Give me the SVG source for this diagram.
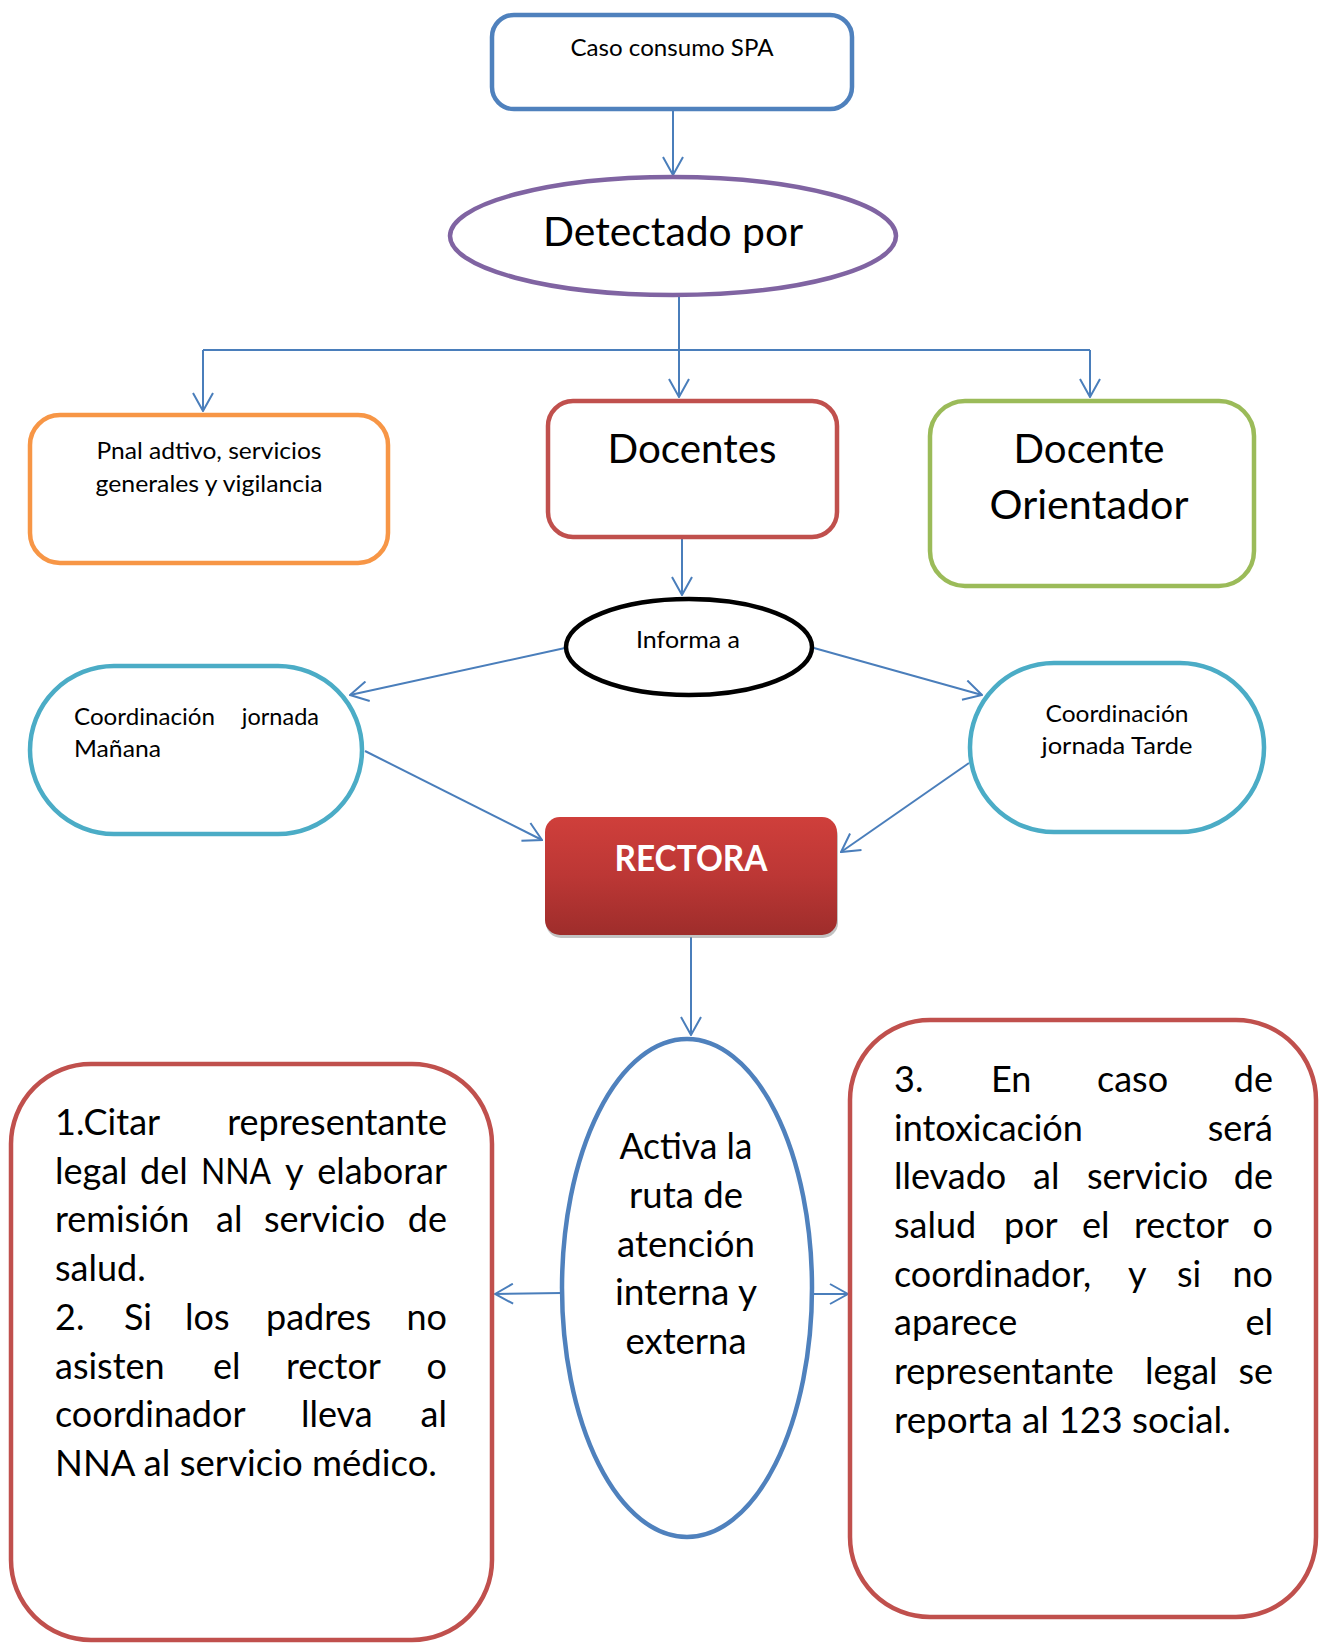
<svg xmlns="http://www.w3.org/2000/svg" width="1322" height="1648" viewBox="0 0 1322 1648">
<style>
text{font-family:Lato,"Open Sans","Liberation Sans",sans-serif;fill:#000}
.sm{font-size:23.5px}
.lg{font-size:40px}
.bd{font-size:36px}
.mid{text-anchor:middle}
.end{text-anchor:end}
.con{fill:none;stroke:#4A7EBB;stroke-width:2}
.arr{marker-end:url(#ah)}
.shape{fill:#fff;stroke-width:4.5}
</style>
<defs>
<marker id="ah" viewBox="0 0 20 22" markerWidth="20" markerHeight="22" refX="19" refY="11" orient="auto" markerUnits="userSpaceOnUse">
<path d="M1,1 L19,11 L1,21" fill="none" stroke="#4A7EBB" stroke-width="2"/>
</marker>
<linearGradient id="rg" x1="0" y1="0" x2="0" y2="1">
<stop offset="0" stop-color="#CF3F3B"/>
<stop offset="0.5" stop-color="#BC3735"/>
<stop offset="1" stop-color="#9E2D2B"/>
</linearGradient>
</defs>
<rect width="1322" height="1648" fill="#fff"/>

<g id="connectors">
<path class="con arr" d="M673,111 L673,175"/>
<path class="con arr" d="M679,296 L679,397"/>
<path class="con" d="M203,350 L1090,350"/>
<path class="con arr" d="M203,350 L203,411"/>
<path class="con arr" d="M1090,350 L1090,397"/>
<path class="con arr" d="M682,539 L682,595"/>
<path class="con arr" d="M565,648 L350,695"/>
<path class="con arr" d="M814,648 L982,695"/>
<path class="con arr" d="M365,751 L542,840"/>
<path class="con arr" d="M969,763 L841,852"/>
<path class="con arr" d="M691,937 L691,1035"/>
<path class="con arr" d="M562,1293 L495,1294"/>
<path class="con arr" d="M812,1294 L848,1294"/>
</g>

<g id="caso">
<rect class="shape" x="492" y="15" width="360" height="94" rx="22" stroke="#4F81BD"/>
<text class="sm mid" x="672" y="56" textLength="203" lengthAdjust="spacingAndGlyphs">Caso consumo SPA</text>
</g>

<g id="detectado">
<ellipse class="shape" cx="673" cy="236" rx="223" ry="59" stroke="#8064A2"/>
<text class="lg mid" x="673" y="246" textLength="260" lengthAdjust="spacingAndGlyphs">Detectado por</text>
</g>

<g id="pnal">
<rect class="shape" x="30" y="415" width="358" height="148" rx="30" stroke="#F79646"/>
<text class="sm mid" x="209" y="459" textLength="225" lengthAdjust="spacingAndGlyphs">Pnal adtivo, servicios</text>
<text class="sm mid" x="209" y="492" textLength="227" lengthAdjust="spacingAndGlyphs">generales y vigilancia</text>
</g>

<g id="docentes">
<rect class="shape" x="548" y="401" width="289" height="136" rx="25" stroke="#C0504D"/>
<text class="lg mid" x="692" y="463" textLength="169" lengthAdjust="spacingAndGlyphs">Docentes</text>
</g>

<g id="orientador">
<rect class="shape" x="930" y="401" width="324" height="185" rx="35" stroke="#9BBB59"/>
<text class="lg mid" x="1089" y="463" textLength="151" lengthAdjust="spacingAndGlyphs">Docente</text>
<text class="lg mid" x="1089" y="519" textLength="199" lengthAdjust="spacingAndGlyphs">Orientador</text>
</g>

<g id="informa">
<ellipse class="shape" cx="689" cy="647" rx="123" ry="48" stroke="#000" stroke-width="5"/>
<text class="sm mid" x="688" y="648" textLength="104" lengthAdjust="spacingAndGlyphs">Informa a</text>
</g>

<g id="manana">
<rect class="shape" x="30" y="666" width="332" height="168" rx="84" ry="84" stroke="#4BACC6"/>
<text class="sm" x="74" y="725" textLength="141" lengthAdjust="spacingAndGlyphs">Coordinación</text>
<text class="sm end" x="319" y="725">jornada</text>
<text class="sm" x="74" y="757" textLength="87" lengthAdjust="spacingAndGlyphs">Mañana</text>
</g>

<g id="tarde">
<rect class="shape" x="970" y="663" width="294" height="169" rx="84" ry="84" stroke="#4BACC6"/>
<text class="sm mid" x="1117" y="722" textLength="143" lengthAdjust="spacingAndGlyphs">Coordinación</text>
<text class="sm mid" x="1117" y="754" textLength="151" lengthAdjust="spacingAndGlyphs">jornada Tarde</text>
</g>

<g id="rectora">
<rect x="546" y="821" width="292" height="117" rx="15" fill="#9A9A9A" opacity="0.6"/>
<rect x="545" y="817" width="292" height="118" rx="15" fill="url(#rg)"/>
<text class="mid" x="691" y="871" font-size="37" font-weight="bold" style="fill:#fff" textLength="153" lengthAdjust="spacingAndGlyphs">RECTORA</text>
</g>

<g id="activa">
<ellipse class="shape" cx="687" cy="1288" rx="125" ry="249" stroke="#4F81BD" stroke-width="5"/>
<text class="bd mid" x="686" y="1159" textLength="133" lengthAdjust="spacingAndGlyphs">Activa la</text>
<text class="bd mid" x="686" y="1208" textLength="114" lengthAdjust="spacingAndGlyphs">ruta de</text>
<text class="bd mid" x="686" y="1257" textLength="138" lengthAdjust="spacingAndGlyphs">atención</text>
<text class="bd mid" x="686" y="1305" textLength="142" lengthAdjust="spacingAndGlyphs">interna y</text>
<text class="bd mid" x="686" y="1354" textLength="121" lengthAdjust="spacingAndGlyphs">externa</text>
</g>

<g id="paso12">
<rect class="shape" x="11" y="1064" width="481" height="576" rx="80" stroke="#C0504D"/>
<text class="bd" x="55" y="1135">1.Citar</text><text class="bd end" x="447" y="1135">representante</text>
<text class="bd" x="55" y="1184">legal</text><text class="bd" x="140" y="1184">del</text><text class="bd" x="201" y="1184" textLength="70" lengthAdjust="spacingAndGlyphs">NNA</text><text class="bd" x="285" y="1184">y</text><text class="bd end" x="447" y="1184">elaborar</text>
<text class="bd" x="55" y="1232">remisión</text><text class="bd" x="216" y="1232">al</text><text class="bd" x="264" y="1232">servicio</text><text class="bd end" x="447" y="1232">de</text>
<text class="bd" x="55" y="1281">salud.</text>
<text class="bd" x="55" y="1330">2.</text><text class="bd" x="124" y="1330">Si</text><text class="bd" x="185" y="1330">los</text><text class="bd" x="266" y="1330">padres</text><text class="bd end" x="447" y="1330">no</text>
<text class="bd" x="55" y="1379">asisten</text><text class="bd" x="213" y="1379">el</text><text class="bd" x="286" y="1379">rector</text><text class="bd end" x="447" y="1379">o</text>
<text class="bd" x="55" y="1427">coordinador</text><text class="bd" x="301" y="1427">lleva</text><text class="bd end" x="447" y="1427">al</text>
<text class="bd" x="55" y="1476" textLength="382" lengthAdjust="spacingAndGlyphs">NNA al servicio médico.</text>
</g>

<g id="paso3">
<rect class="shape" x="850" y="1020" width="466" height="597" rx="80" stroke="#C0504D"/>
<text class="bd" x="894" y="1092">3.</text><text class="bd" x="991" y="1092">En</text><text class="bd" x="1097" y="1092">caso</text><text class="bd end" x="1273" y="1092">de</text>
<text class="bd" x="894" y="1141">intoxicación</text><text class="bd end" x="1273" y="1141">será</text>
<text class="bd" x="894" y="1189">llevado</text><text class="bd" x="1033" y="1189">al</text><text class="bd" x="1087" y="1189">servicio</text><text class="bd end" x="1273" y="1189">de</text>
<text class="bd" x="894" y="1238">salud</text><text class="bd" x="1004" y="1238">por</text><text class="bd" x="1082" y="1238">el</text><text class="bd" x="1134" y="1238">rector</text><text class="bd end" x="1273" y="1238">o</text>
<text class="bd" x="894" y="1287">coordinador,</text><text class="bd" x="1128" y="1287">y</text><text class="bd" x="1177" y="1287">si</text><text class="bd end" x="1273" y="1287">no</text>
<text class="bd" x="894" y="1335">aparece</text><text class="bd end" x="1273" y="1335">el</text>
<text class="bd" x="894" y="1384">representante</text><text class="bd" x="1145" y="1384">legal</text><text class="bd end" x="1273" y="1384">se</text>
<text class="bd" x="894" y="1433" textLength="337" lengthAdjust="spacingAndGlyphs">reporta al 123 social.</text>
</g>
</svg>
